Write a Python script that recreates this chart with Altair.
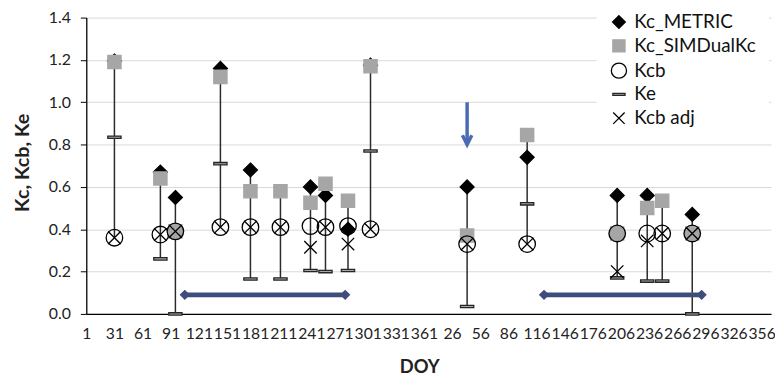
import altair as alt
import pandas as pd

# ---- data (day counted continuously over two seasons) ----
days = [31, 80, 96, 144, 176, 208, 240, 256, 280, 304, 407, 471, 567, 599, 615, 647]
kc_metric = [1.195, 0.67, 0.55, 1.16, 0.68, None, 0.60, 0.56, 0.40, 1.175, 0.60, 0.74, 0.56, 0.56, None, 0.47]
kc_sim = [1.19, 0.64, 0.39, 1.12, 0.58, 0.58, 0.525, 0.615, 0.535, 1.17, 0.37, 0.845, 0.38, 0.50, 0.535, 0.38]
kcb = [0.36, 0.375, 0.39, 0.41, 0.41, 0.41, 0.415, 0.41, 0.415, 0.40, 0.33, 0.33, 0.38, 0.38, 0.38, 0.38]
ke = [0.835, 0.26, 0.0, 0.71, 0.165, 0.165, 0.205, 0.20, 0.205, 0.77, 0.035, 0.52, 0.17, 0.155, 0.155, 0.0]
kcb_adj = [0.36, 0.375, 0.39, 0.41, 0.41, 0.41, 0.315, 0.41, 0.33, 0.40, 0.33, 0.33, 0.20, 0.345, 0.38, 0.38]

series_names = ["Kc_METRIC", "Kc_SIMDualKc", "Kcb", "Ke", "Kcb adj"]

# annotation arrows
span_start = [106, 489]
span_end = [277, 657]
span_level = [0.09, 0.09]
drop_day = [407]
drop_top = [1.0]
drop_tip = [0.80]

x_ticks = list(range(1, 722, 30))
y_ticks = [0.0, 0.2, 0.4, 0.6, 0.8, 1.0, 1.2, 1.4]

FONT = "Lato"

wide = pd.DataFrame({
    "day": days,
    "Kc_METRIC": kc_metric,
    "Kc_SIMDualKc": kc_sim,
    "Kcb": kcb,
    "Ke": ke,
    "Kcb adj": kcb_adj,
})
wide["lo"] = wide[series_names].min(axis=1)
wide["hi"] = wide[series_names].max(axis=1)
shaded_days = set(wide.loc[(wide["Kc_SIMDualKc"] - wide["Kcb"]).abs() < 0.02, "day"])

long = wide.melt(id_vars=["day"], value_vars=series_names,
                 var_name="series", value_name="value").dropna()
long["z"] = long["series"].map({n: i for i, n in enumerate(series_names)})
long["shaded"] = (long["series"] == "Kcb") & long["day"].isin(shaded_days)

spans = pd.DataFrame({"start": span_start, "end": span_end, "level": span_level})
span_ends = pd.DataFrame({"day": span_start + span_end, "level": span_level + span_level})
drop = pd.DataFrame({"day": drop_day, "top": drop_top, "tip": drop_tip})

x_scale = alt.Scale(domain=[1, 731], nice=False, zero=False)
y_scale = alt.Scale(domain=[0, 1.4], nice=False, zero=True)

x_axis = alt.Axis(
    values=x_ticks,
    labelExpr="datum.value > 365 ? datum.value - 365 : datum.value",
    title="DOY", grid=False, ticks=False, labelOverlap=False, labelBound=False,
    labelFlush=False, labelPadding=13, labelFont=FONT, labelFontSize=15.8,
    labelColor="#222222", domainColor="#000000", domainWidth=1.3,
    titleFont=FONT, titleFontSize=18.5, titleFontWeight="bold", titleColor="#222222",
    titleX=336, titleY=53, titleBaseline="middle",
)
y_axis = alt.Axis(
    values=y_ticks, format=".1f", title="Kc, Kcb, Ke",
    grid=True, gridColor="#D9D9D9", gridWidth=1,
    ticks=True, tickSize=6, tickColor="#000000", labelOverlap=False,
    labelPadding=10, labelFont=FONT, labelFontSize=16, labelColor="#222222",
    domainColor="#000000", domainWidth=1.3,
    titleFont=FONT, titleFontSize=20, titleFontWeight="bold", titleColor="#222222",
    titleX=-64, titleY=146, titleAngle=270, titleAlign="center", titleBaseline="middle",
)


def X(field):
    return alt.X(field, scale=x_scale, axis=x_axis)


def Y(field):
    return alt.Y(field, scale=y_scale, axis=y_axis)


shapes = [
    "M0,-0.84L0.84,0L0,0.84L-0.84,0Z",
    "M-0.8,-0.8H0.8V0.8H-0.8Z",
    "circle",
    "M-0.8,-0.14H0.8V0.14H-0.8Z",
    "M-0.75,-0.75L0.75,0.75M-0.75,0.75L0.75,-0.75",
]
fills = ["#000000", "#A6A6A6", "transparent", "#A6A6A6", "transparent"]
strokes = ["#000000", "#A6A6A6", "#000000", "#262626", "#000000"]

leg = alt.Legend(title=None)

rules = alt.Chart(wide).mark_rule(color="#2b2b2b", strokeWidth=1.5).encode(
    x=X("day:Q"), y=Y("lo:Q"), y2="hi:Q",
)

points = alt.Chart(long).mark_point(filled=False, size=279, strokeWidth=1.3, opacity=1).encode(
    x=X("day:Q"),
    y=Y("value:Q"),
    shape=alt.Shape("series:N", scale=alt.Scale(domain=series_names, range=shapes), legend=leg),
    fill=alt.condition("datum.shaded", alt.value("#A6A6A6"),
                       alt.Fill("series:N", scale=alt.Scale(domain=series_names, range=fills), legend=leg)),
    stroke=alt.Stroke("series:N", scale=alt.Scale(domain=series_names, range=strokes), legend=leg),
    order=alt.Order("z:Q"),
)

span_rules = alt.Chart(spans).mark_rule(color="#3F4D7C", strokeWidth=5).encode(
    x=X("start:Q"), x2="end:Q", y=Y("level:Q"),
)
span_heads = alt.Chart(span_ends).mark_point(shape="diamond", filled=True, size=110,
                                             color="#3F4D7C", opacity=1).encode(
    x=X("day:Q"), y=Y("level:Q"),
)
drop_rule = alt.Chart(drop).mark_rule(color="#4A6BB3", strokeWidth=3.5).encode(
    x=X("day:Q"), y=Y("top:Q"), y2="tip:Q",
)
drop_head = alt.Chart(drop).mark_point(shape="M-1,-2L0,0L1,-2", filled=False, size=90,
                                       color="#4A6BB3", strokeWidth=3.5, opacity=1).encode(
    x=X("day:Q"), y=Y("tip:Q"),
)

chart = alt.layer(rules, points, span_rules, span_heads, drop_rule, drop_head).properties(
    width=691, height=299,
    autosize=alt.AutoSizeParams(type="none"),
    padding={"left": 79, "top": 8, "right": 4, "bottom": 65},
    background="white",
).configure_view(strokeWidth=0).configure_axis(labelOverlap=False).configure_legend(
    orient="none", legendX=515, legendY=-18, padding=13, fillColor="white",
    symbolSize=235, symbolStrokeWidth=1.3, labelFont=FONT, labelFontSize=19,
    labelColor="#111111", labelOffset=6, rowPadding=4, labelLimit=300,
)

chart.save("out.html", embed_options={"renderer": "svg", "actions": False})
